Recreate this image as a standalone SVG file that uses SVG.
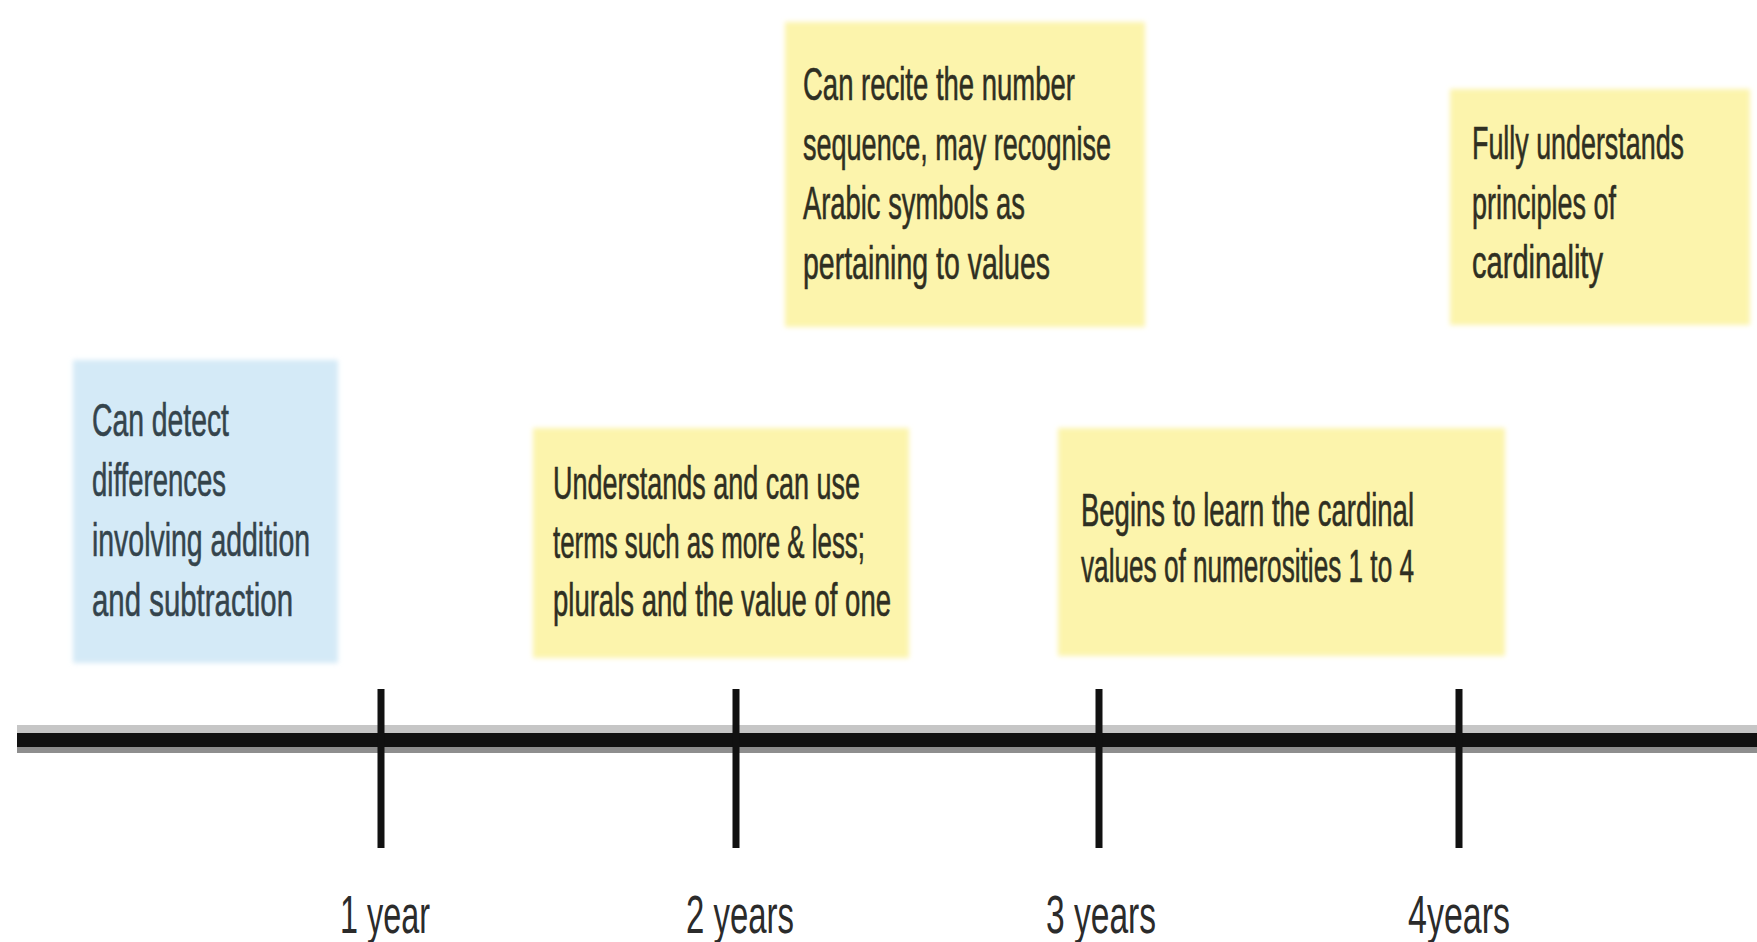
<svg xmlns="http://www.w3.org/2000/svg" width="1757" height="942" viewBox="0 0 1757 942">
  <defs>
    <filter id="soft" x="-5%" y="-5%" width="110%" height="110%">
      <feGaussianBlur stdDeviation="2.5"/>
    </filter>
    <style>
      .box-y { fill: #fcf4ac; filter: url(#soft); }
      .box-b { fill: #d4eaf7; filter: url(#soft); }
      .t { font-family: "Liberation Sans", Arial, sans-serif; font-size: 46px; fill: #2f2f22; stroke: #2f2f22; stroke-width: 0.6; }
      .tb { font-family: "Liberation Sans", Arial, sans-serif; font-size: 46px; fill: #34444c; stroke: #34444c; stroke-width: 0.6; }
      .lbl { font-family: "Liberation Sans", Arial, sans-serif; font-size: 54px; fill: #2b2b2b; }
      .tick { stroke: #111; stroke-width: 7; }
    </style>
  </defs>
  <rect width="1757" height="942" fill="#ffffff"/>

  <g id="node-addition">
    <rect class="box-b" x="73" y="360" width="265" height="303"/>
    <text class="tb" x="92" y="436" textLength="137" lengthAdjust="spacingAndGlyphs">Can detect</text>
    <text class="tb" x="92" y="496" textLength="134" lengthAdjust="spacingAndGlyphs">differences</text>
    <text class="tb" x="92" y="556" textLength="218" lengthAdjust="spacingAndGlyphs">involving addition</text>
    <text class="tb" x="92" y="616" textLength="201" lengthAdjust="spacingAndGlyphs">and subtraction</text>
  </g>

  <g id="node-recite">
    <rect class="box-y" x="785" y="22" width="360" height="305"/>
    <text class="t" x="803" y="100" textLength="272" lengthAdjust="spacingAndGlyphs">Can recite the number</text>
    <text class="t" x="803" y="160" textLength="308" lengthAdjust="spacingAndGlyphs">sequence, may recognise</text>
    <text class="t" x="803" y="219" textLength="222" lengthAdjust="spacingAndGlyphs">Arabic symbols as</text>
    <text class="t" x="803" y="279" textLength="247" lengthAdjust="spacingAndGlyphs">pertaining to values</text>
  </g>

  <g id="node-cardinality">
    <rect class="box-y" x="1450" y="89" width="300" height="236"/>
    <text class="t" x="1472" y="159" textLength="212" lengthAdjust="spacingAndGlyphs">Fully understands</text>
    <text class="t" x="1472" y="219" textLength="144" lengthAdjust="spacingAndGlyphs">principles of</text>
    <text class="t" x="1472" y="278" textLength="131" lengthAdjust="spacingAndGlyphs">cardinality</text>
  </g>

  <g id="node-more-less">
    <rect class="box-y" x="533" y="428" width="376" height="230"/>
    <text class="t" x="553" y="499" textLength="307" lengthAdjust="spacingAndGlyphs">Understands and can use</text>
    <text class="t" x="553" y="558" textLength="312" lengthAdjust="spacingAndGlyphs">terms such as more &amp; less;</text>
    <text class="t" x="553" y="616" textLength="338" lengthAdjust="spacingAndGlyphs">plurals and the value of one</text>
  </g>

  <g id="node-cardinal-values">
    <rect class="box-y" x="1058" y="428" width="447" height="228"/>
    <text class="t" x="1081" y="526" textLength="333" lengthAdjust="spacingAndGlyphs">Begins to learn the cardinal</text>
    <text class="t" x="1081" y="582" textLength="333" lengthAdjust="spacingAndGlyphs">values of numerosities 1 to 4</text>
  </g>

  <g id="connectors">
    <rect x="17" y="725" width="1740" height="8" fill="#c6c6c6"/>
    <rect x="17" y="733" width="1740" height="14" fill="#111111"/>
    <rect x="17" y="747" width="1740" height="6" fill="#8e8e8e"/>
    <line class="tick" x1="381" y1="689" x2="381" y2="848"/>
    <line class="tick" x1="736" y1="689" x2="736" y2="848"/>
    <line class="tick" x1="1099" y1="689" x2="1099" y2="848"/>
    <line class="tick" x1="1459" y1="689" x2="1459" y2="848"/>
  </g>

  <g id="labels">
    <text class="lbl" x="340" y="933" textLength="90" lengthAdjust="spacingAndGlyphs">1 year</text>
    <text class="lbl" x="686" y="933" textLength="108" lengthAdjust="spacingAndGlyphs">2 years</text>
    <text class="lbl" x="1046" y="933" textLength="110" lengthAdjust="spacingAndGlyphs">3 years</text>
    <text class="lbl" x="1408" y="933" textLength="102" lengthAdjust="spacingAndGlyphs">4years</text>
  </g>
</svg>
